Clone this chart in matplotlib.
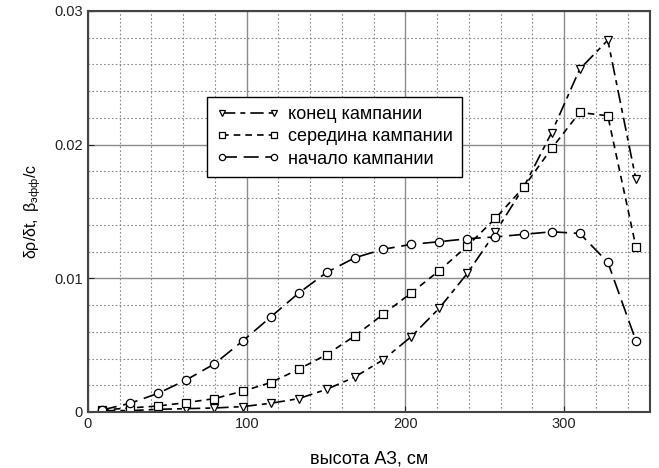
import numpy as np
import matplotlib
matplotlib.use("Agg")
import matplotlib.pyplot as plt
from matplotlib.ticker import MultipleLocator

plt.rcParams['font.family'] = ['Liberation Sans', 'DejaVu Sans']
plt.rcParams['mathtext.fontset'] = 'custom'
plt.rcParams['mathtext.rm'] = 'Liberation Sans'
plt.rcParams['mathtext.it'] = 'Liberation Sans:italic'

# core height (cm) at the centre of each of the 20 axial segments
height = [8.85, 26.55, 44.25, 61.95, 79.65, 97.35, 115.05, 132.75, 150.45, 168.15,
          185.85, 203.55, 221.25, 238.95, 256.65, 274.35, 292.05, 309.75, 327.45, 345.15]

end_campaign = [0.0001, 0.0001, 0.0002, 0.00025, 0.0003, 0.0004, 0.00065, 0.001, 0.0017, 0.00262,
                0.0039, 0.00563, 0.00776, 0.01037, 0.01344, 0.0168, 0.0209, 0.02565, 0.02782, 0.0174]
mid_campaign = [0.00015, 0.0003, 0.00045, 0.0007, 0.001, 0.00155, 0.0022, 0.0032, 0.0043, 0.0057,
                0.0073, 0.0089, 0.01057, 0.01242, 0.01449, 0.0168, 0.01972, 0.02241, 0.02216, 0.01236]
start_campaign = [0.00015, 0.00065, 0.0014, 0.0024, 0.0036, 0.0053, 0.0071, 0.0089, 0.01045, 0.01154,
                  0.01217, 0.01254, 0.01274, 0.01296, 0.0131, 0.01329, 0.01348, 0.01336, 0.0112, 0.00533]

labels = ['конец кампании', 'середина кампании', 'начало кампании']

fig = plt.figure(figsize=(6.59, 4.68), dpi=100)
ax = fig.add_axes([0.1335, 0.1197, 0.8528, 0.8568])

common = dict(color='black', lw=1.2, markerfacecolor='white', markeredgecolor='black',
              markeredgewidth=0.9, markersize=6)
ax.plot(height, end_campaign, marker='v', linestyle=(0, (8, 3, 3, 3)), label=labels[0], **common)
ax.plot(height, mid_campaign, marker='s', linestyle=(0, (4, 3)), label=labels[1], **common)
ax.plot(height, start_campaign, marker='o', linestyle=(0, (9, 4)), label=labels[2], **common)

ax.set_xlim(0, 354)
ax.set_ylim(0, 0.03)
ax.xaxis.set_minor_locator(MultipleLocator(20))
ax.yaxis.set_minor_locator(MultipleLocator(0.002))
ax.set_xticks([0, 100, 200, 300])
ax.set_xticklabels(['0', '100', '200', '300'])
ax.set_yticks([0, 0.01, 0.02, 0.03])
ax.set_yticklabels(['0', '0.01', '0.02', '0.03'])

ax.grid(which='major', color='#8a8a8a', linestyle='-', linewidth=1.0)
ax.grid(which='minor', color='#8a8a8a', linestyle=(0, (1.5, 2)), linewidth=0.8)
ax.set_axisbelow(True)

ax.tick_params(which='both', direction='in', labelsize=10.5, colors='#222222', length=4)
ax.tick_params(which='minor', length=0)
for s in ax.spines.values():
    s.set_color('#444444')
    s.set_linewidth(1.5)

ax.set_xlabel('высота АЗ, см', fontsize=13, labelpad=14)
ax.set_ylabel(r'$\mathrm{δρ/δt,\ β}_{\mathrm{эфф}}\mathrm{/с}$', fontsize=11.5, labelpad=8)

leg = ax.legend(loc='upper left', bbox_to_anchor=(0.212, 0.786), numpoints=2,
                handlelength=3.5, fontsize=13, frameon=True, fancybox=False,
                edgecolor='black', framealpha=1, borderpad=0.5, labelspacing=0.3,
                handletextpad=0.5, borderaxespad=0, markerscale=0.75)
leg.get_frame().set_linewidth(1.0)

fig.savefig('out.png', dpi=100)
